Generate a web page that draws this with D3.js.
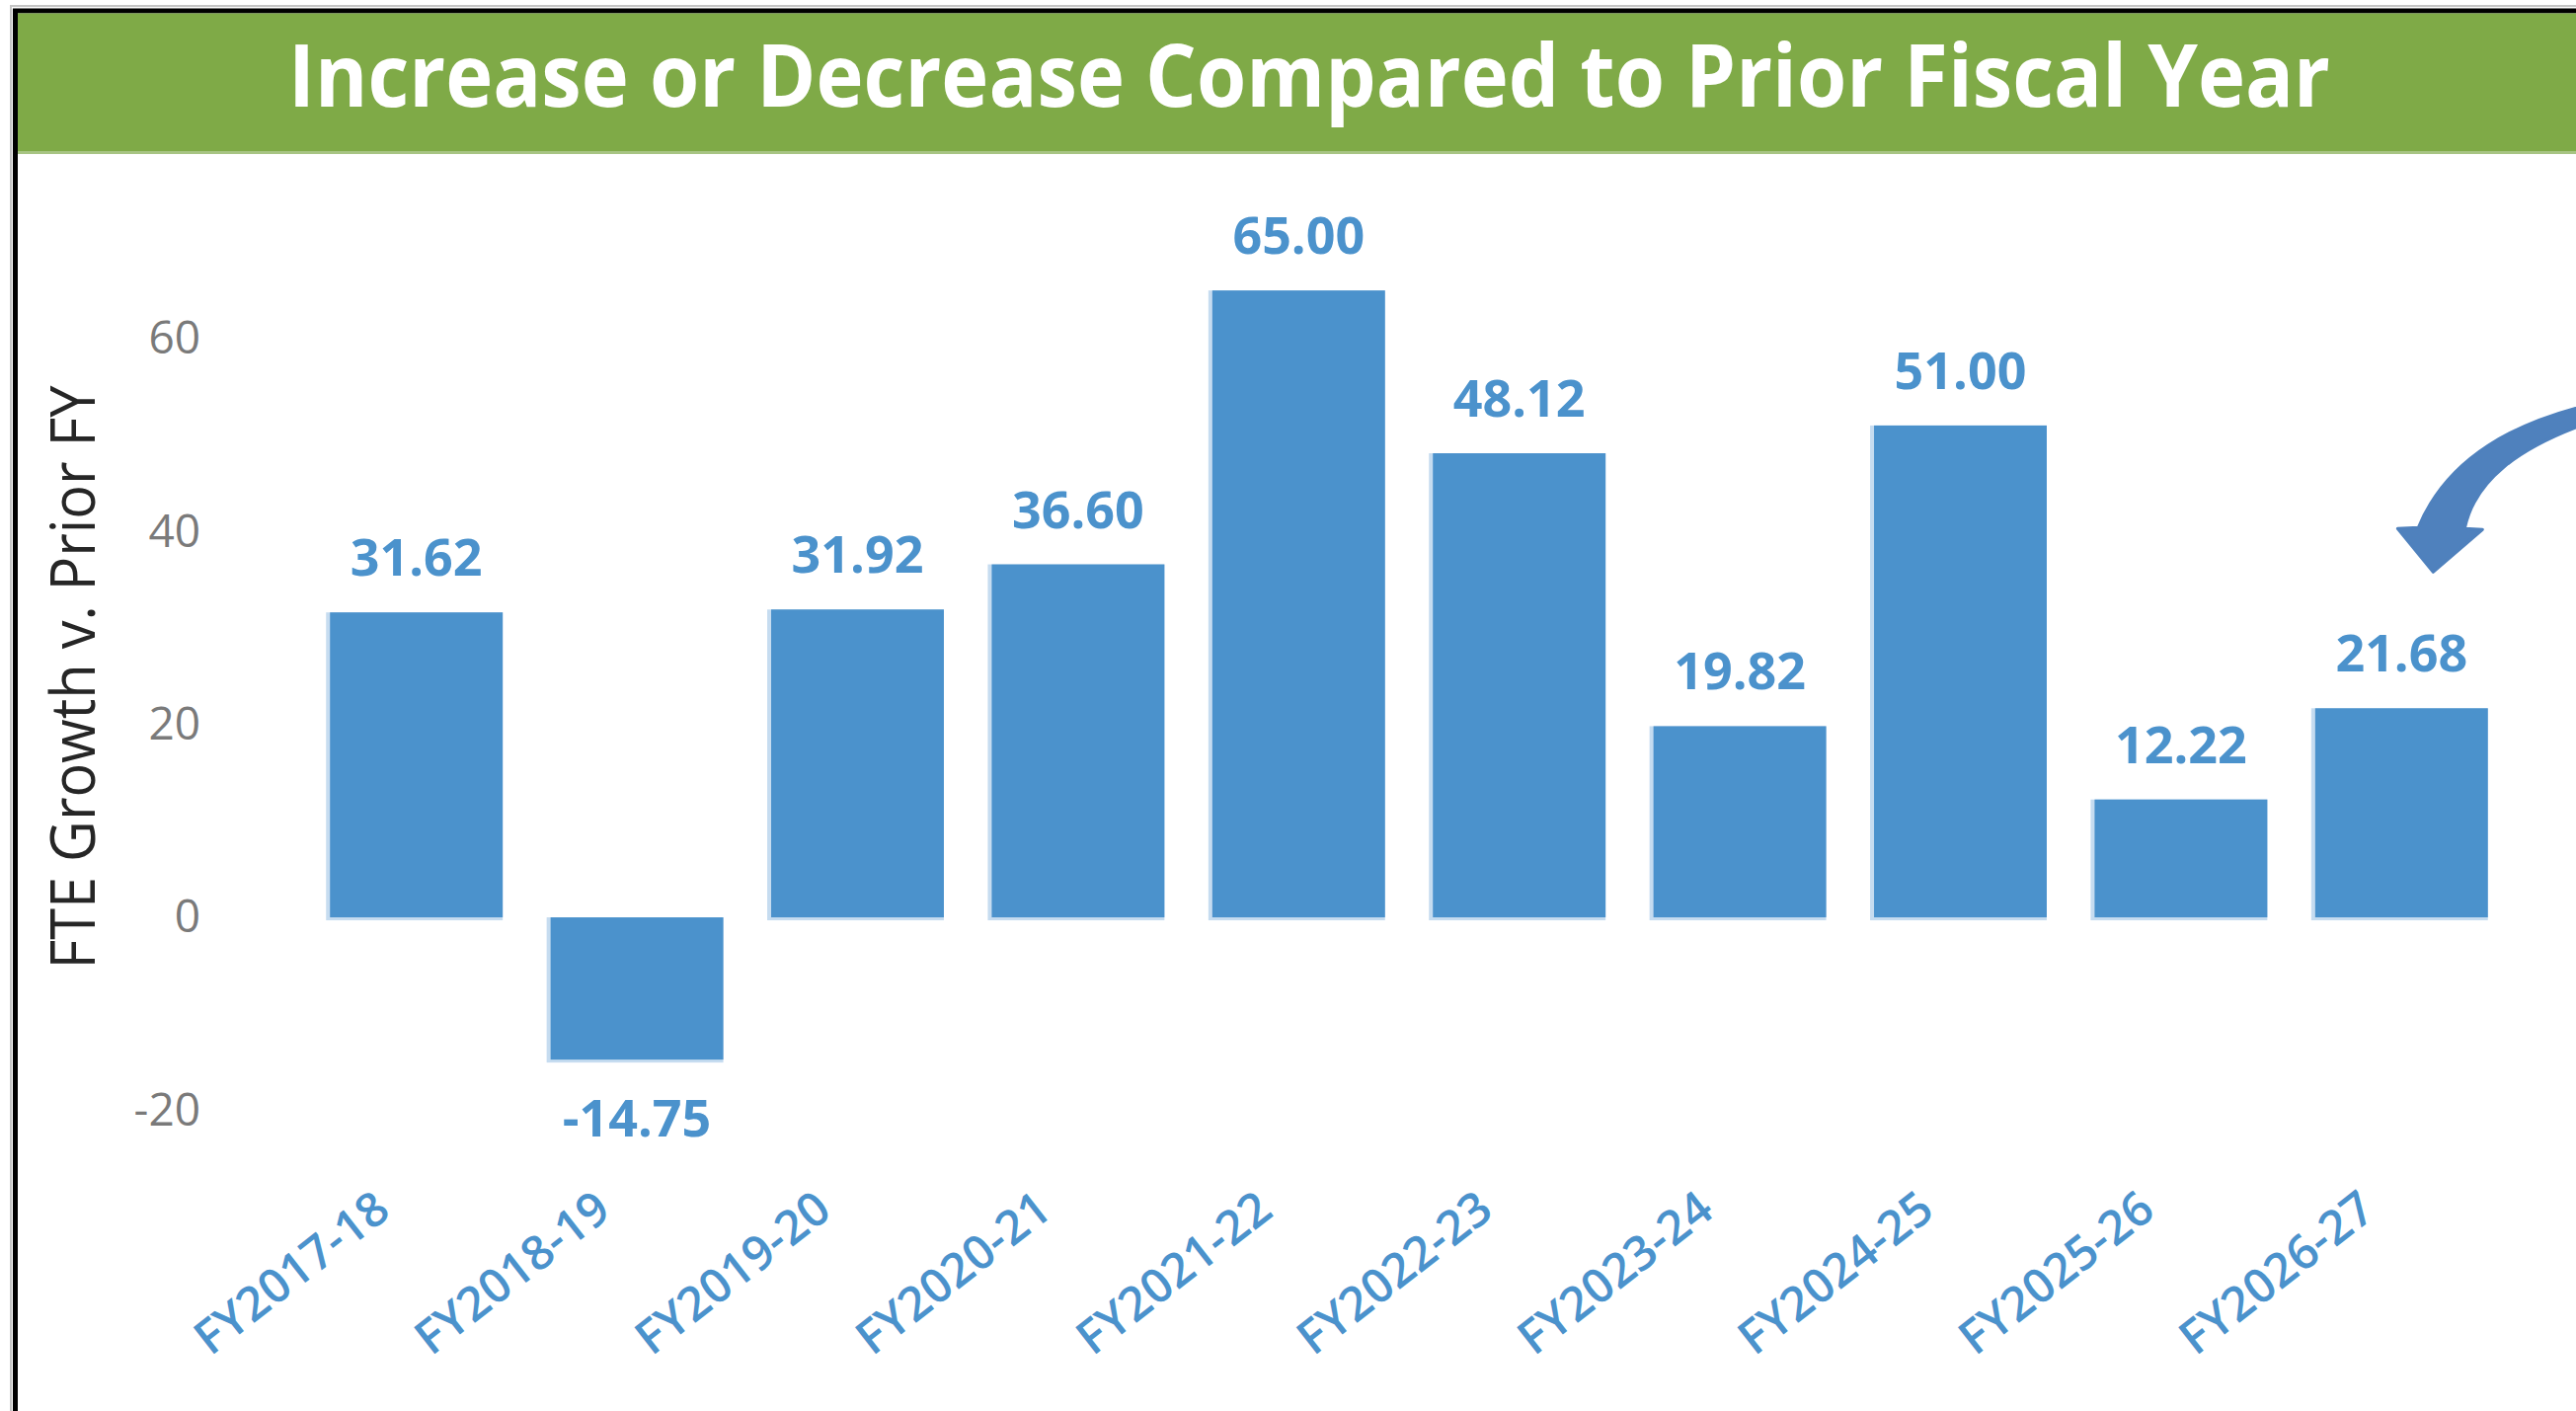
<!DOCTYPE html>
<html>
<head>
<meta charset="utf-8">
<script src="https://cdn.jsdelivr.net/npm/d3@7"></script>
<style>
  body { margin: 0; background: #fff; }
  svg { display: block; }
</style>
</head>
<body>
<svg id="chart"></svg>
<script>
// chart data
const chartTitle = "Increase or Decrease Compared to Prior Fiscal Year";
const yAxisTitle = "FTE Growth v. Prior FY";
const fiscalYears = ["FY2017-18", "FY2018-19", "FY2019-20", "FY2020-21", "FY2021-22",
                     "FY2022-23", "FY2023-24", "FY2024-25", "FY2025-26", "FY2026-27"];
const fteChange = [31.62, -14.75, 31.92, 36.60, 65.00, 48.12, 19.82, 51.00, 12.22, 21.68];
const yTicks = [-20, 0, 20, 40, 60];

const width = 2609, height = 1429;
const barBlue = "#4b92cc";

const svg = d3.select("#chart")
    .attr("width", width)
    .attr("height", height);

// frame + green header
svg.append("rect").attr("x", 11).attr("y", 6).attr("width", width).attr("height", height)
    .attr("fill", "none").attr("stroke", "#c4c4c4").attr("stroke-width", 2);
svg.append("rect").attr("x", 15.5).attr("y", 11).attr("width", width).attr("height", height)
    .attr("fill", "none").attr("stroke", "#000").attr("stroke-width", 5);
svg.append("rect").attr("x", 18).attr("y", 13.5).attr("width", width).attr("height", 140)
    .attr("fill", "#7faa47");
svg.append("rect").attr("x", 18).attr("y", 153).attr("width", width).attr("height", 3)
    .attr("fill", "#a7c483");

svg.append("text")
    .attr("x", 1326).attr("y", 108)
    .attr("text-anchor", "middle")
    .attr("textLength", 2068)
    .attr("lengthAdjust", "spacingAndGlyphs")
    .style("font-family", "'Open Sans', sans-serif")
    .style("font-weight", "bold")
    .style("font-size", "88px")
    .attr("fill", "#fff")
    .text(chartTitle);

// scales
const x = d3.scaleBand()
    .domain(fiscalYears)
    .range([310, 2544])
    .paddingInner(0.217)
    .paddingOuter(0.1085);

const y = d3.scaleLinear()
    .domain([-20, 60])
    .range([1124.4, 343]);

const data = fiscalYears.map((fy, i) => ({fy: fy, value: fteChange[i]}));

// bars (light edge behind, then fill)
const bars = svg.append("g").attr("class", "bars");
bars.selectAll(".edge").data(data).enter().append("rect")
    .attr("class", "edge")
    .attr("x", d => x(d.fy) - 4)
    .attr("y", d => y(Math.max(0, d.value)))
    .attr("width", x.bandwidth() + 4)
    .attr("height", d => Math.abs(y(d.value) - y(0)) + 3)
    .attr("fill", "#c6dcf0");
bars.selectAll(".bar").data(data).enter().append("rect")
    .attr("class", "bar")
    .attr("x", d => x(d.fy))
    .attr("y", d => y(Math.max(0, d.value)))
    .attr("width", x.bandwidth())
    .attr("height", d => Math.abs(y(d.value) - y(0)))
    .attr("fill", barBlue);

// value labels
svg.append("g").selectAll("text").data(data).enter().append("text")
    .attr("x", d => x(d.fy) + x.bandwidth() / 2)
    .attr("y", d => d.value >= 0 ? y(d.value) - 37 : y(d.value) + 78)
    .attr("text-anchor", "middle")
    .style("font-family", "'Open Sans', sans-serif")
    .style("font-weight", "bold")
    .style("font-size", "52px")
    .attr("fill", barBlue)
    .text(d => d.value.toFixed(2));

// y axis
const yAxis = d3.axisLeft(y).tickValues(yTicks).tickSize(0).tickPadding(0)
    .tickFormat(d => String(d));
const yG = svg.append("g")
    .attr("transform", "translate(203,0)")
    .call(yAxis);
yG.select(".domain").remove();
yG.selectAll("text")
    .style("font-family", "'Open Sans', sans-serif")
    .style("font-size", "46px")
    .attr("fill", "#7a7a7a");

svg.append("text")
    .attr("transform", "translate(96,686) rotate(-90)")
    .attr("text-anchor", "middle")
    .attr("textLength", 591)
    .attr("lengthAdjust", "spacingAndGlyphs")
    .style("font-family", "'Open Sans', sans-serif")
    .style("font-size", "62px")
    .attr("fill", "#262626")
    .text(yAxisTitle);

// x axis
const xAxis = d3.axisBottom(x).tickSize(0);
const xG = svg.append("g")
    .attr("transform", "translate(0,1238)")
    .call(xAxis);
xG.select(".domain").remove();
xG.selectAll("text")
    .attr("x", 0).attr("y", 0).attr("dy", 0)
    .attr("text-anchor", "end")
    .attr("transform", "translate(-24,-8) rotate(-38)")
    .style("font-family", "'Open Sans', sans-serif")
    .style("font-weight", "600")
    .style("font-size", "48px")
    .attr("fill", barBlue);

// curved call-out arrow pointing at the last bar
const last = data[data.length - 1];
const tipX = x(last.fy) + x.bandwidth() / 2 + 32;
const tipY = y(last.value) - 138;
svg.append("path")
    .attr("transform", "translate(" + tipX + "," + tipY + ")")
    .attr("d", "M0,0 L50,-43 L32,-44 C42,-92 85,-126 160,-152 L160,-170 C85,-152 15,-118 -15,-45 L-36,-44 Z")
    .attr("fill", "#4f81bd")
    .attr("stroke", "#4f81bd")
    .attr("stroke-width", 3)
    .attr("stroke-linejoin", "round");
</script>
</body>
</html>
